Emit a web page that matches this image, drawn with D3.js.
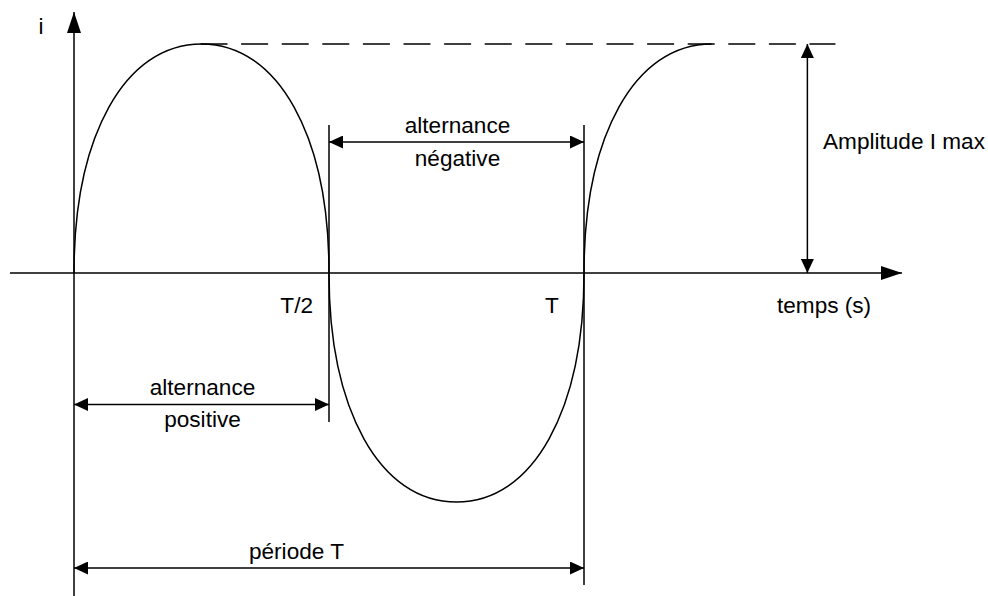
<!DOCTYPE html>
<html>
<head>
<meta charset="utf-8">
<script src="https://cdn.jsdelivr.net/npm/d3@7"></script>
<style>
  html, body { margin: 0; padding: 0; background: #fff; }
  svg { display: block; }
  text { font-family: "Liberation Sans", Arial, sans-serif; font-size: 22.6px; fill: #000; }
</style>
</head>
<body>
<svg id="chart" width="988" height="596"></svg>
<script>
// ---- data ----
const waveT = [0, 0.25, 0.5, 0.75, 1, 1.25];   // time (in periods T)
const waveI = [0, 1, 0, -1, 0, 1];             // current (in units of I max)
const tickT = [0.5, 1];
const tickLabels = ["T/2", "T"];
const spanStart = [0.5, 0, 0];
const spanEnd = [1, 0.5, 1];
const spanLabels = [["alternance", "négative"], ["alternance", "positive"], ["période T"]];
const amplitudeT = 1.438;
const amplitudeLabel = "Amplitude I max";
const dashEndT = 1.493;
const xLabel = "temps (s)";
const yLabel = "i";

// ---- layout ----
const svg = d3.select("#chart");
const x = d3.scaleLinear().domain([0, 1]).range([74, 584]);
const y = d3.scaleLinear().domain([-1, 1]).range([502, 44]);
const K = 0.6;
const stroke = "#000";

const defs = svg.append("defs");
function marker(id, len, half) {
  defs.append("marker")
    .attr("id", id)
    .attr("viewBox", `0 ${-half} ${len} ${2 * half}`)
    .attr("refX", len).attr("refY", 0)
    .attr("markerUnits", "userSpaceOnUse")
    .attr("markerWidth", len).attr("markerHeight", 2 * half)
    .attr("orient", "auto-start-reverse")
    .append("path")
    .attr("d", `M0,${-half}L${len},0L0,${half}Z`)
    .attr("fill", stroke);
}
marker("big", 21, 7);
marker("small", 14, 6.5);

function line(x1, y1, x2, y2) {
  return svg.append("line")
    .attr("x1", x1).attr("y1", y1).attr("x2", x2).attr("y2", y2)
    .attr("stroke", stroke).attr("stroke-width", 1.5);
}

// axes
line(10, y(0), 902, y(0)).attr("marker-end", "url(#big)");
line(x(0), 596, x(0), 12).attr("marker-end", "url(#big)");
svg.append("text").attr("x", 41).attr("y", 34).attr("text-anchor", "middle").text(yLabel);
svg.append("text").attr("x", 777).attr("y", 313).text(xLabel);

// dashed amplitude line
line(x(waveT[1]) - 1, y(1), x(dashEndT), y(1)).attr("stroke-dasharray", "27,13.6");

// wave
const p = d3.path();
p.moveTo(x(waveT[0]), y(waveI[0]));
for (let k = 0; k < waveT.length - 1; k++) {
  const x0 = x(waveT[k]), y0 = y(waveI[k]);
  const x1 = x(waveT[k + 1]), y1 = y(waveI[k + 1]);
  if (waveI[k] === 0) {
    p.bezierCurveTo(x0, y0 + K * (y1 - y0), x1 - K * (x1 - x0), y1, x1, y1);
  } else {
    p.bezierCurveTo(x0 + K * (x1 - x0), y0, x1, y1 - K * (y1 - y0), x1, y1);
  }
}
svg.append("path").attr("d", p.toString())
  .attr("fill", "none").attr("stroke", stroke).attr("stroke-width", 1.5);

// tick markers
const markTop = [125, 125];
const markBottom = [422, 585];
tickT.forEach((t, k) => {
  line(x(t), markTop[k], x(t), markBottom[k]);
});
svg.append("text").attr("x", x(tickT[0]) - 16).attr("y", 313).attr("text-anchor", "end").text(tickLabels[0]);
svg.append("text").attr("x", x(tickT[1]) - 32).attr("y", 313).attr("text-anchor", "middle").text(tickLabels[1]);

// span arrows
const spanY = [142, 404.5, 568];
const labelDy = [[-9, 24], [-9.5, 22], [-9]];
spanStart.forEach((s, k) => {
  line(x(s), spanY[k], x(spanEnd[k]), spanY[k])
    .attr("marker-start", "url(#small)").attr("marker-end", "url(#small)");
  const cx = k === 2 ? 296.5 : (x(s) + x(spanEnd[k])) / 2 + 1;
  spanLabels[k].forEach((lab, j) => {
    svg.append("text").attr("x", cx).attr("y", spanY[k] + labelDy[k][j])
      .attr("text-anchor", "middle").text(lab);
  });
});

// amplitude arrow
line(x(amplitudeT), y(1), x(amplitudeT), y(0))
  .attr("marker-start", "url(#small)").attr("marker-end", "url(#small)");
svg.append("text").attr("x", 823).attr("y", 149).text(amplitudeLabel);
</script>
</body>
</html>
